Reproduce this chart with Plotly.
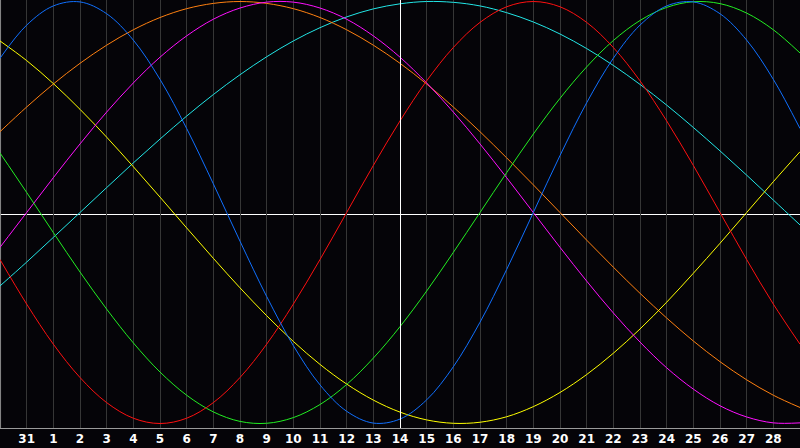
import plotly.graph_objects as go

# --- biorhythm window: 30th of last month .. 29th ---
days = [30, 31] + list(range(1, 30))
tick_labels = [str(d) for d in days[1:30]]

# values, one per day (-1 .. 1)
cycle_23 = [0.731, 0.888, 0.979, 0.998, 0.942, 0.817, 0.631, 0.398, 0.136, -0.136,
            -0.398, -0.631, -0.817, -0.942, -0.998, -0.979, -0.888, -0.731, -0.520, -0.270,
            0.0, 0.270, 0.520, 0.731, 0.888, 0.979, 0.998, 0.942, 0.817, 0.631, 0.398]
cycle_28 = [-0.223, -0.434, -0.624, -0.782, -0.901, -0.975, -1.0, -0.975, -0.901, -0.782,
            -0.624, -0.434, -0.223, 0.0, 0.223, 0.434, 0.624, 0.782, 0.901, 0.975,
            1.0, 0.975, 0.901, 0.782, 0.624, 0.434, 0.223, 0.0, -0.223, -0.434, -0.624]
cycle_33 = [0.282, 0.095, -0.095, -0.282, -0.458, -0.618, -0.756, -0.866, -0.945, -0.990,
            -0.999, -0.972, -0.910, -0.815, -0.690, -0.541, -0.372, -0.189, 0.0, 0.189,
            0.372, 0.541, 0.690, 0.815, 0.910, 0.972, 0.999, 0.990, 0.945, 0.866, 0.756]
cycle_38 = [-0.165, 0.0, 0.165, 0.325, 0.476, 0.614, 0.736, 0.837, 0.916, 0.969,
            0.997, 0.997, 0.969, 0.916, 0.837, 0.736, 0.614, 0.476, 0.325, 0.165,
            0.0, -0.165, -0.325, -0.476, -0.614, -0.736, -0.837, -0.916, -0.969, -0.997, -0.997]
cycle_43 = [0.813, 0.720, 0.611, 0.489, 0.357, 0.217, 0.073, -0.073, -0.217, -0.357,
            -0.489, -0.611, -0.720, -0.813, -0.889, -0.946, -0.983, -0.999, -0.994, -0.968,
            -0.920, -0.853, -0.768, -0.667, -0.552, -0.425, -0.288, -0.146, 0.0, 0.146, 0.288]
cycle_48 = [0.383, 0.500, 0.609, 0.707, 0.793, 0.866, 0.924, 0.966, 0.991, 1.0,
            0.991, 0.966, 0.924, 0.866, 0.793, 0.707, 0.609, 0.500, 0.383, 0.259,
            0.131, 0.0, -0.131, -0.259, -0.383, -0.500, -0.609, -0.707, -0.793, -0.866, -0.924]
cycle_53 = [-0.348, -0.235, -0.118, 0.0, 0.118, 0.235, 0.348, 0.457, 0.559, 0.653,
            0.738, 0.813, 0.876, 0.927, 0.965, 0.989, 1.0, 0.996, 0.979, 0.947,
            0.903, 0.846, 0.777, 0.697, 0.607, 0.509, 0.403, 0.292, 0.177, 0.059, -0.059]

series = [
    ("53 days", cycle_53, "#22e6e6"),
    ("48 days", cycle_48, "#ff8010"),
    ("43 days", cycle_43, "#ffff00"),
    ("38 days", cycle_38, "#ff10ff"),
    ("33 days", cycle_33, "#22ee22"),
    ("28 days", cycle_28, "#ff1010"),
    ("23 days", cycle_23, "#1070ff"),
]

x = list(range(len(days)))
today = 15  # position of the 14th
x_span = len(days) - 1
half_px = 0.5 * x_span / 800  # keep the 1px marker on a pixel centre

fig = go.Figure()
for name, vals, col in series:
    fig.add_trace(go.Scatter(
        x=x, y=vals, name=name, mode="lines",
        line=dict(color=col, width=1, shape="spline"),
        hoverinfo="skip",
    ))

# today marker + zero line
fig.add_shape(type="line", xref="x", yref="paper", x0=today + half_px, x1=today + half_px,
              y0=0, y1=1, line=dict(color="white", width=1), layer="above")
fig.add_shape(type="line", xref="x", yref="paper", x0=0, x1=x_span, y0=0.4988, y1=0.4988,
              line=dict(color="white", width=1), layer="between")
# left frame line
fig.add_shape(type="line", xref="paper", yref="paper", x0=0.0007, x1=0.0007, y0=0, y1=1,
              line=dict(color="#8a8a8a", width=1), layer="below")

fig.update_layout(
    width=800, height=448,
    margin=dict(l=0, r=0, t=0, b=20),
    paper_bgcolor="#050408",
    plot_bgcolor="#050408",
    showlegend=False,
    hovermode=False,
    xaxis=dict(
        range=[0, x_span],
        tickvals=x[1:30],
        ticktext=tick_labels,
        showgrid=True, gridcolor="#363636", gridwidth=1,
        zeroline=False,
        showline=True, linecolor="#9a9a9a", linewidth=1,
        ticks="",
        tickfont=dict(family="DejaVu Sans", size=12, color="white", weight="bold"),
        fixedrange=True,
    ),
    yaxis=dict(
        range=[-1.0213, 1.0071],
        showgrid=False, zeroline=False, showticklabels=False,
        fixedrange=True,
    ),
)

fig.write_html("out.html", config={"displayModeBar": False},
               post_script="document.body.style.margin='0';document.body.style.background='#050408';")
